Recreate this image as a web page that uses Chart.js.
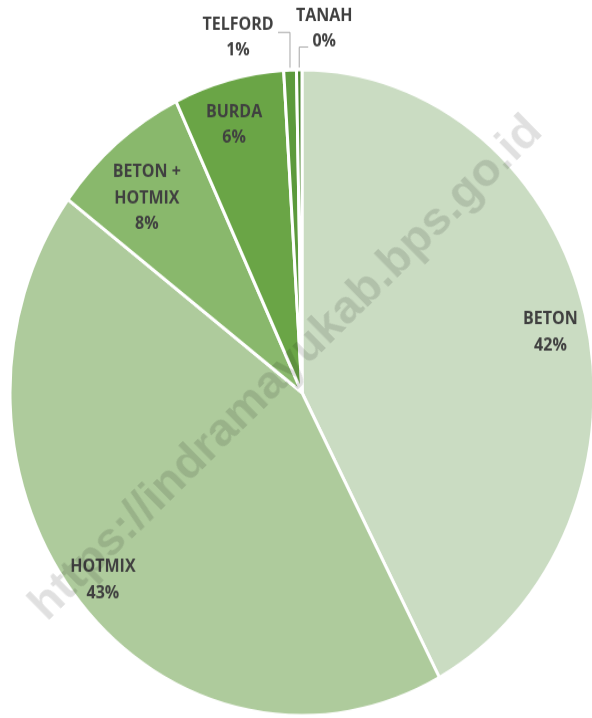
<!DOCTYPE html>
<html>
<head>
<meta charset="utf-8">
<script src="https://cdn.jsdelivr.net/npm/chart.js@4.4.1/dist/chart.umd.min.js"></script>
<style>
  html, body { margin: 0; padding: 0; background: #fff; overflow: hidden; width: 592px; height: 718px; }
  #wrap { position: absolute; left: 0; top: 0; width: 606px; height: 650px; transform: scaleY(1.106); transform-origin: 0 0; }
  #mark { position: absolute; left: 284px; top: 366px; transform: translate(-50%, -50%) rotate(-44.5deg);
          font: bold 47px "Liberation Sans", Arial, sans-serif; color: rgba(0,0,0,0.12); white-space: nowrap; pointer-events: none; }
</style>
</head>
<body>
<div id="wrap"><canvas id="pie" width="606" height="650"></canvas></div>
<div id="mark">https://indramayukab.bps.go.id</div>
<script>
// jenis permukaan jalan, share of road length
let categories = ['BETON', 'HOTMIX', 'BETON + HOTMIX', 'BURDA', 'TELFORD', 'TANAH'];
let labelLines = [['BETON'], ['HOTMIX'], ['BETON +', 'HOTMIX'], ['BURDA'], ['TELFORD'], ['TANAH']];
let shares = [42.2, 43.0, 7.7, 6.1, 0.7, 0.3];
let colors = ['#cadcc2', '#aecb9c', '#89b86c', '#6aa546', '#5c9a3c', '#4a872e'];

// where each label sits: f = fraction of radius along the slice middle (+ small nudge),
// or an outside label with a leader line (offsets from the slice edge)
let labelPos = [
  {f: 0.87, nx: 2, ny: 7},
  {f: 0.89, nx: -2, ny: 0},
  {f: 0.81, nx: -5, ny: 7},
  {f: 0.87, nx: -4, ny: 4},
  {out: true, lx: -12, ly: -32, dx: -52, dy: -27.5},
  {out: true, lx: 9, ly: -18.5, dx: 25, dy: -35}
];

let total = shares.reduce((a, b) => a + b, 0);

let pieLabels = {
  id: 'pieLabels',
  afterDatasetsDraw(chart) {
    let ctx = chart.ctx;
    let arcs = chart.getDatasetMeta(0).data;
    ctx.save();
    ctx.font = 'bold 16px "Open Sans"';
    ctx.fillStyle = '#404040';
    ctx.textAlign = 'center';
    ctx.textBaseline = 'middle';
    for (let i = 0; i < arcs.length; i++) {
      let a = arcs[i];
      let mid = (a.startAngle + a.endAngle) / 2;
      let lines = labelLines[i].concat([Math.round(shares[i] / total * 100) + '%']);
      let p = labelPos[i];
      let cx, cy;
      if (p.out) {
        let ax = a.x + Math.cos(mid) * (a.outerRadius + 2);
        let ay = a.y + Math.sin(mid) * (a.outerRadius + 2);
        ctx.strokeStyle = '#a6a6a6';
        ctx.lineWidth = 1;
        ctx.beginPath();
        ctx.moveTo(ax, ay);
        ctx.lineTo(ax, ay + p.ly);
        ctx.lineTo(ax + p.lx, ay + p.ly);
        ctx.stroke();
        cx = ax + p.dx;
        cy = ay + p.dy;
      } else {
        cx = a.x + Math.cos(mid) * a.outerRadius * p.f + p.nx;
        cy = a.y + Math.sin(mid) * a.outerRadius * p.f + p.ny;
      }
      let lh = 23.5;
      let y0 = cy - (lines.length - 1) * lh / 2;
      lines.forEach((t, k) => ctx.fillText(t, cx, y0 + k * lh));
    }
    ctx.restore();
  }
};

new Chart(document.getElementById('pie'), {
  type: 'pie',
  data: {
    labels: categories,
    datasets: [{
      data: shares,
      backgroundColor: colors,
      borderColor: '#ffffff',
      borderWidth: 3,
      hoverOffset: 0,
      radius: 292
    }]
  },
  options: {
    responsive: false,
    animation: false,
    layout: { padding: { left: 10, right: 12, top: 63, bottom: 3 } },
    plugins: { legend: { display: false }, tooltip: { enabled: false } }
  },
  plugins: [pieLabels]
});
</script>
</body>
</html>
